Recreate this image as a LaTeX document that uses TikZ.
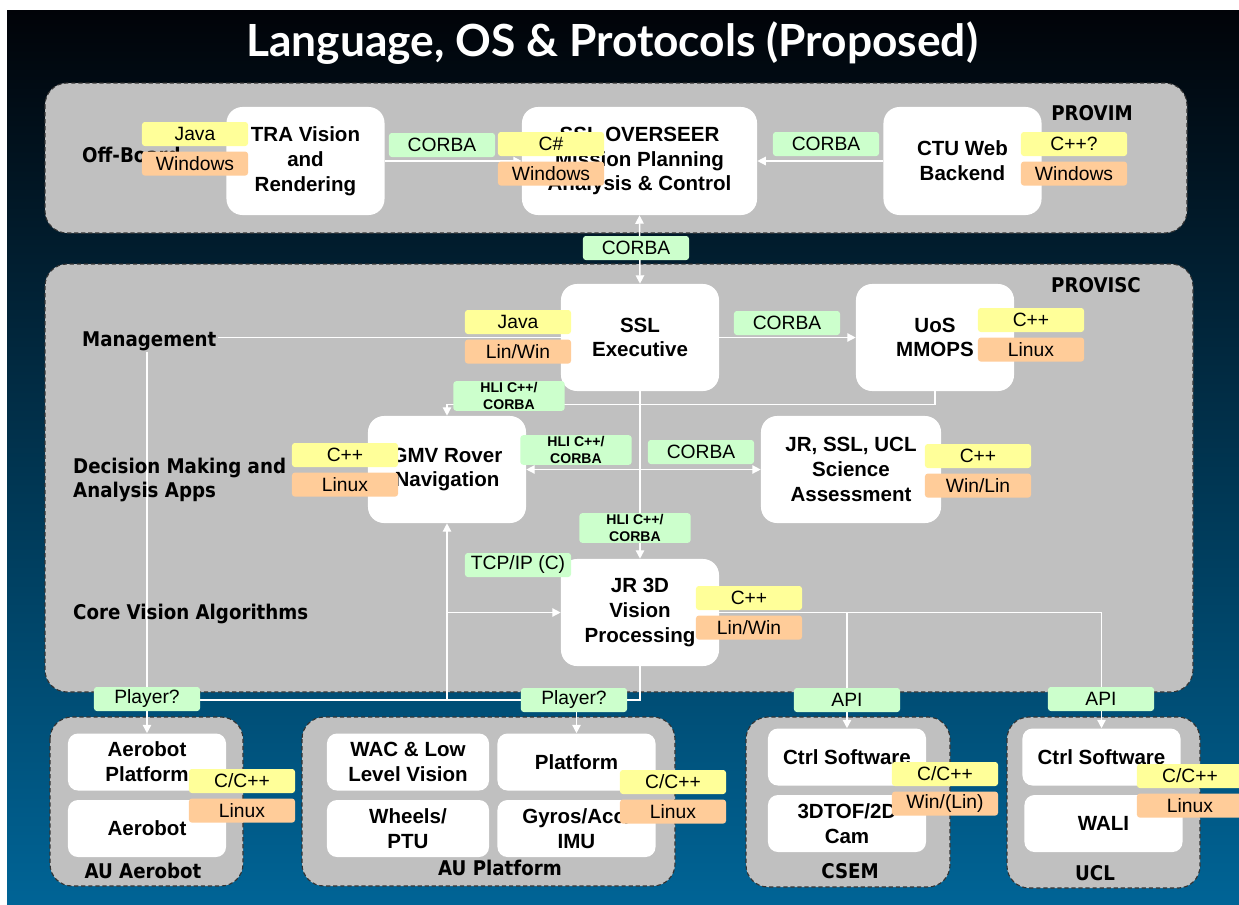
\documentclass[tikz,border=0pt]{standalone}
\usepackage{fontspec}
\setmainfont{Liberation Sans}
\newfontfamily\titlefont{Lato}
\newfontfamily\regionfont{DejaVu Sans Condensed}
\usetikzlibrary{arrows.meta,positioning,backgrounds}
\definecolor{bgtop}{RGB}{1,3,8}
\definecolor{bgbot}{RGB}{0,100,150}
\definecolor{panelgray}{RGB}{192,192,192}
\definecolor{langyellow}{RGB}{255,255,153}
\definecolor{osorange}{RGB}{255,204,153}
\definecolor{protogreen}{RGB}{204,255,204}
\pgfdeclarelayer{lines}
\pgfsetlayers{background,lines,main}

\begin{document}
\begin{tikzpicture}[x=0.025cm,y=-0.025cm,
node distance=0.125cm,
>={Triangle[length=6pt,width=6pt]}]

\tikzstyle{unit}=[rectangle, rounded corners=0.4cm, fill=white, text=black, align=center,
minimum width=3.95cm, minimum height=2.675cm, inner sep=0pt,
font=\bfseries\fontsize{14.6}{17.6}\selectfont]

\tikzstyle{small unit}=[unit, minimum height=1.425cm, rounded corners=0.25cm]

\tikzstyle{tag}=[rectangle, rounded corners=2pt, minimum width=2.65cm, minimum height=0.6cm,
inner sep=0pt, text=black, font=\fontsize{13.7}{15}\selectfont]

\tikzstyle{lang}=[tag, fill=langyellow]
\tikzstyle{os}=[tag, fill=osorange]
\tikzstyle{proto}=[tag, fill=protogreen]
\tikzstyle{hli}=[proto, minimum width=2.78cm, minimum height=0.74cm, align=center,
font=\bfseries\fontsize{10}{11.5}\selectfont]

\tikzstyle{panel}=[draw=black!80, dash pattern=on 3pt off 2pt, fill=panelgray,
rounded corners=0.55cm, line width=0.8pt]

\tikzstyle{region}=[font=\regionfont\bfseries\fontsize{14.4}{17.5}\selectfont, text=black,
inner sep=1pt, align=left]

\tikzstyle{wire}=[draw=white, line width=1pt]

\useasboundingbox (0,0) rectangle (1239,904);

%background and groups
\begin{pgfonlayer}{background}
\fill[white] (0,0) rectangle (1239,904);
\shade[top color=bgtop, bottom color=bgbot] (7,10) rectangle (1239,904);
\draw[panel] (45,83) rectangle (1187,233);
\draw[panel] (45,264) rectangle (1193,692);
\draw[panel] (50,717) rectangle (243,886);
\draw[panel] (302,717) rectangle (675,886);
\draw[panel] (746,717) rectangle (950,887);
\draw[panel] (1007,717) rectangle (1200,888);
\end{pgfonlayer}

\node[text=white, font=\titlefont\bfseries\fontsize{31.5}{33}\selectfont]
(title) at (612,43)
{Language, OS \& Protocols (Proposed)};

%group labels
\node[region, anchor=west] (offboard) at (80.5,155) {Off-Board};
\node[region] (provim) at (1092,113) {PROVIM};
\node[region] (provisc) at (1096,285) {PROVISC};
\node[region, anchor=west, fill=panelgray] (mgmt) at (80.5,341) {Management};
\node[region, anchor=west] (decision) at (71.5,480) {Decision Making and\\Analysis Apps};
\node[region, anchor=west] (corevision) at (71.5,614) {Core Vision Algorithms};
\node[region] (aulabel) at (143,871) {AU Aerobot};
\node[region] (auplabel) at (500,868) {AU Platform};
\node[region] (csemlabel) at (850,871) {CSEM};
\node[region] (ucllabel) at (1095,873) {UCL};

%off-board
\node[unit, minimum height=2.7cm]
(tra) at (305.5,161)
{TRA Vision\\and\\Rendering};

\node[unit, minimum height=2.7cm, minimum width=5.875cm]
(overseer) at (639.5,161)
{SSL OVERSEER\\Mission Planning\\Analysis \& Control};

\node[unit, minimum height=2.7cm]
(ctu) at (962.5,161)
{CTU Web\\Backend};

%provisc
\node[unit]
(exec) at (640,337.5)
{SSL\\Executive};

\node[unit]
(uos) at (935,337.5)
{UoS\\MMOPS};

\node[unit]
(gmv) at (447,469.5)
{GMV Rover\\Navigation};

\node[unit, minimum width=4.5cm]
(science) at (851,469.5)
{JR, SSL, UCL\\Science\\Assessment};

\node[unit]
(jr) at (640,612.5)
{JR 3D\\Vision\\Processing};

%platforms
\node[small unit] (aeroplat) at (147,762) {Aerobot\\Platform};
\node[small unit] (aerobot) at (147,828.5) {Aerobot};
\node[small unit, minimum width=4.05cm] (wac) at (408,762) {WAC \& Low\\Level Vision};
\node[small unit, minimum width=4.05cm] (wheels) at (408,828.5) {Wheels/\\PTU};
\node[small unit] (platform) at (576.5,762) {Platform};
\node[small unit] (gyros) at (576.5,828.5) {Gyros/Acc/\\IMU};
\node[small unit] (csemctrl) at (847,757) {Ctrl Software};
\node[small unit] (tof) at (847,823.5) {3DTOF/2D\\Cam};
\node[small unit] (uclctrl) at (1101.5,757) {Ctrl Software};
\node[small unit] (wali) at (1103.5,823.5) {WALI};

%language and os
\node[lang] (tralang) at (195,134) {Java};
\node[os] (traos) [below=of tralang] {Windows};
\node[lang] (overseerlang) at (551,144) {C\#};
\node[os] (overseeros) [below=of overseerlang] {Windows};
\node[lang] (ctulang) at (1074,144) {C++?};
\node[os] (ctuos) [below=of ctulang] {Windows};
\node[lang] (execlang) at (518,322) {Java};
\node[os] (execos) [below=of execlang] {Lin/Win};
\node[lang] (uoslang) at (1031,320) {C++};
\node[os] (uosos) [below=of uoslang] {Linux};
\node[lang] (gmvlang) at (345,455) {C++};
\node[os] (gmvos) [below=of gmvlang] {Linux};
\node[lang] (sciencelang) at (978,456) {C++};
\node[os] (scienceos) [below=of sciencelang] {Win/Lin};
\node[lang] (jrlang) at (749,598) {C++};
\node[os] (jros) [below=of jrlang] {Lin/Win};
\node[lang] (aerolang) at (242,781) {C/C++};
\node[os] (aeroos) [below=of aerolang] {Linux};
\node[lang] (auplang) at (673,782) {C/C++};
\node[os] (aupos) [below=of auplang] {Linux};
\node[lang] (csemlang) at (945,774) {C/C++};
\node[os] (csemos) [below=of csemlang] {Win/(Lin)};
\node[lang] (ucllang) at (1190,776) {C/C++};
\node[os] (uclos) [below=of ucllang] {Linux};

%protocols
\node[proto] (p1) at (442,145) {CORBA};
\node[proto] (p2) at (826,144) {CORBA};
\node[proto] (p3) at (636,248) {CORBA};
\node[proto] (p4) at (787,323) {CORBA};
\node[hli] (p5) at (509,396) {HLI C++/\\CORBA};
\node[hli] (p6) at (576,450) {HLI C++/\\CORBA};
\node[proto] (p7) at (701,452) {CORBA};
\node[hli] (p8) at (635,528) {HLI C++/\\CORBA};
\node[proto] (p9) at (518,565) {TCP/IP (C)};
\node[proto] (p10) at (147,699) {Player?};
\node[proto] (p11) at (574,700) {Player?};
\node[proto] (p12) at (847,700) {API};
\node[proto] (p13) at (1101,699) {API};

%connections
\begin{pgfonlayer}{lines}
\coordinate (bus) at (447,700);
\draw[wire,->] (tra.east) -- (overseer.west);
\draw[wire,->] (ctu.west) -- (overseer.east);
\draw[wire,<->] (overseer.south) -- (exec.north);
\draw[wire,->] (exec.east) -- (uos.west);
\draw[wire,->] (exec.west) -| (aeroplat.north);
\draw[wire,->] (uos.south) -- ++(0,13) -| (gmv.north);
\draw[wire,->] (exec.south) -- (jr.north);
\draw[wire,<->] (gmv.east) -- (science.west);
\draw[wire] (jr.south) |- (bus) -- (aeroplat.north |- bus);
\draw[wire,->] (bus) -- (gmv.south);
\draw[wire,->] (bus |- jr.west) -- (jr.west);
\draw[wire,->] (platform.north |- bus) -- (platform.north);
\draw[wire,->] (jr.east) -| (csemctrl.north);
\draw[wire,->] (csemctrl.north |- jr.east) -| (uclctrl.north);
\end{pgfonlayer}

\end{tikzpicture}
\end{document}
